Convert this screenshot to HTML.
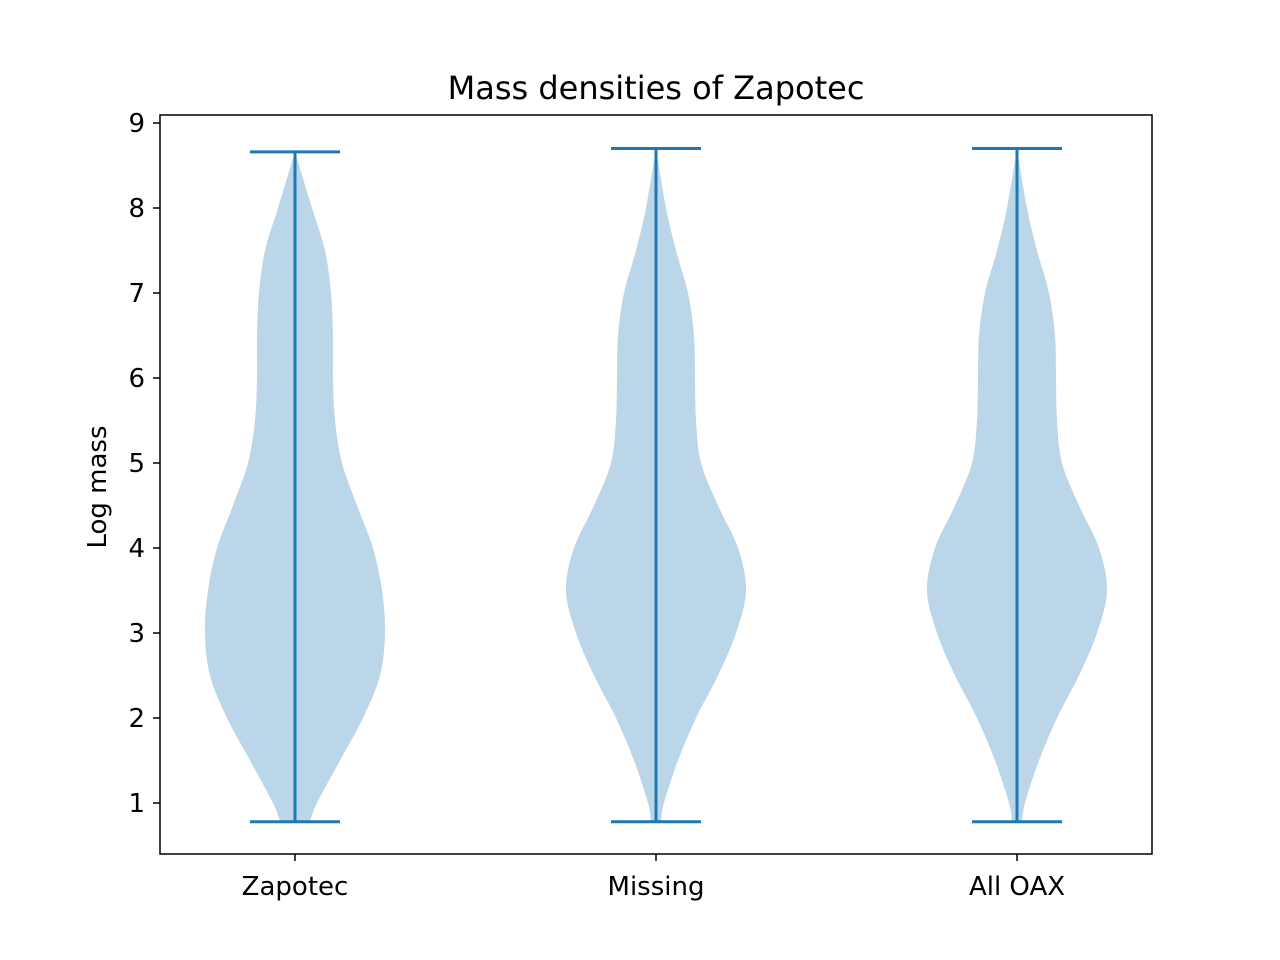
<!DOCTYPE html>
<html><head><meta charset="utf-8"><style>body{margin:0;background:#fff}svg{display:block;font-family:"DejaVu Sans","Liberation Sans",sans-serif}</style></head>
<body>
<svg id="chart" width="1280" height="960" viewBox="0 0 1280 960">
<rect width="1280" height="960" fill="#fff"/>
<text x="656" y="99" font-size="32" text-anchor="middle">Mass densities of Zapotec</text>
<g id="violins"></g>
<rect x="160" y="115" width="992" height="739" fill="none" stroke="#000" stroke-width="1.5"/>
<g id="axes"></g>
<text transform="translate(106,487) rotate(-90)" font-size="26" text-anchor="middle">Log mass</text>
</svg>
<script>
const categories = ["Zapotec", "Missing", "All OAX"];
const mins = [0.78, 0.78, 0.78];
const maxs = [8.66, 8.70, 8.70];
const densityLevels = [8.7, 8, 7.5, 7, 6.5, 6, 5.5, 5, 4.5, 4, 3.5, 3, 2.5, 2, 1.5, 1, 0.78];
const zapotecWidths = [0, 17, 30, 36, 38, 38, 40, 47, 62, 78, 87, 90, 85, 68, 45, 22, 15];
const missingWidths = [0, 10, 20, 32, 38, 39, 40, 45, 62, 82, 90, 80, 62, 40, 22, 8, 5];
const allOaxWidths = [0, 10, 20, 32, 38, 39, 40, 45, 62, 82, 90, 80, 62, 40, 22, 8, 5];
const widthSeries = [zapotecWidths, missingWidths, allOaxWidths];
const yTicks = [1, 2, 3, 4, 5, 6, 7, 8, 9];

const NS = "http://www.w3.org/2000/svg";
const y = v => 803 - (v - 1) * 85;
const x = i => 295 + i * 361;
const W = w => w * 1.0;
function mk(tag, attrs, parent) { const e = document.createElementNS(NS, tag); for (const k in attrs) e.setAttribute(k, attrs[k]); parent.appendChild(e); return e; }
const vg = document.getElementById("violins"), ag = document.getElementById("axes");

categories.forEach((c, i) => {
  const cx = x(i), ws = widthSeries[i];
  const pts = densityLevels.map((v, k) => [Math.min(Math.max(v, mins[i]), maxs[i]), ws[k]]);
  const right = pts.map(p => [cx + W(p[1]), y(p[0])]);
  const left = pts.slice().reverse().map(p => [cx - W(p[1]), y(p[0])]);
  function cr(arr) {
    let d = "";
    for (let k = 0; k < arr.length - 1; k++) {
      const p0 = arr[Math.max(k - 1, 0)], p1 = arr[k], p2 = arr[k + 1], p3 = arr[Math.min(k + 2, arr.length - 1)];
      const c1 = [p1[0] + (p2[0] - p0[0]) / 6, p1[1] + (p2[1] - p0[1]) / 6];
      const c2 = [p2[0] - (p3[0] - p1[0]) / 6, p2[1] - (p3[1] - p1[1]) / 6];
      d += ` C${c1[0]},${c1[1]} ${c2[0]},${c2[1]} ${p2[0]},${p2[1]}`;
    }
    return d;
  }
  const d = `M${right[0][0]},${right[0][1]}` + cr(right) + ` L${left[0][0]},${left[0][1]}` + cr(left) + " Z";
  const body = mk("path", { d: d, fill: "#1f77b4", "fill-opacity": "0.3" }, vg);
  
  
  const st = { stroke: "#1f77b4", "stroke-width": "3" };
  const ln = mk("line", Object.assign({ x1: cx, x2: cx, y1: y(mins[i]), y2: y(maxs[i]) }, st), vg);
  
  
  const cmax = mk("line", Object.assign({ x1: cx - 45, x2: cx + 45, y1: y(maxs[i]), y2: y(maxs[i]) }, st), vg);
  
  
  const cmin = mk("line", Object.assign({ x1: cx - 45, x2: cx + 45, y1: y(mins[i]), y2: y(mins[i]) }, st), vg);
  
  
  const tk = mk("line", { x1: cx, x2: cx, y1: 854, y2: 861, stroke: "#000", "stroke-width": "1.5" }, ag);
  
  
  const t = mk("text", { x: cx, y: 895, "font-size": "26", "text-anchor": "middle" }, ag);
  t.textContent = c;
  
  
});
yTicks.forEach(v => {
  const tk = mk("line", { x1: 153, x2: 160, y1: y(v), y2: y(v), stroke: "#000", "stroke-width": "1.5" }, ag);
  
  
  const t = mk("text", { x: 145, y: y(v) + 9, "font-size": "26", "text-anchor": "end" }, ag);
  t.textContent = v;
  
  
});
</script>
</body></html>
